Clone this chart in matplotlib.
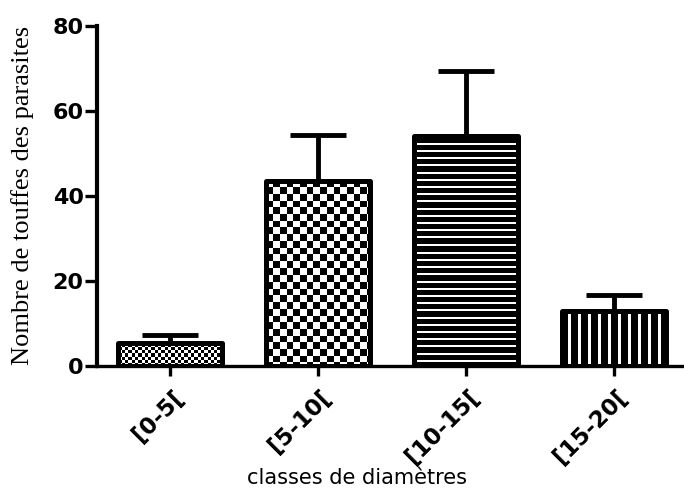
import matplotlib
matplotlib.use("Agg")
import matplotlib.pyplot as plt
import numpy as np
from matplotlib.transforms import ScaledTranslation

# values
categories = ["[0-5[", "[5-10[", "[10-15[", "[15-20["]
means = [5.3, 43.5, 54.1, 13.0]
sem = [2.0, 10.8, 15.3, 3.7]
y_ticks = [0, 20, 40, 60, 80]
x_label = "classes de diamètres"
y_label = "Nombre de touffes des parasites"

# fill pattern for each bar (drawn in pixel units)
fills = ["fine_check", "check", "hlines", "vlines"]
BAR_W = 0.7
DPI = 100


def pattern(kind, w, h):
    """Return an h x w array, 1 = black, 0 = white."""
    yy, xx = np.mgrid[0:h, 0:w]
    if kind == "fine_check":
        c = 3.3
        return ((xx // c + yy // c) % 2).astype(float)
    if kind == "check":
        c = 6.7
        return ((xx // c + yy // c) % 2).astype(float)
    if kind == "hlines":
        return 1.0 - ((yy % 7.2) < 2.0)
    if kind == "vlines":
        return 1.0 - (((xx + 4) % 10.0) < 2.2)
    return np.zeros((h, w))


fig = plt.figure(figsize=(6.84, 4.91), dpi=DPI)
ax = fig.add_axes([0.1418, 0.2546, 0.8582, 0.6934])

x = np.arange(len(categories))
xlim = (-0.493, 3.473)
ylim = (0, 80)
ax.set_xlim(*xlim)
ax.set_ylim(*ylim)

base = ax.bar(x, means, width=BAR_W, color="white", edgecolor="none", zorder=1)

# pattern images clipped to each bar
for rect, kind in zip(base.patches, fills):
    x0, x1 = rect.get_x(), rect.get_x() + rect.get_width()
    y0, y1 = 0, rect.get_height()
    (px0, py0), (px1, py1) = ax.transData.transform([(x0, y0), (x1, y1)])
    w = max(int(round(abs(px1 - px0))), 1)
    h = max(int(round(abs(py1 - py0))), 1)
    im = ax.imshow(pattern(kind, w, h), cmap="gray_r", vmin=0, vmax=1,
                   extent=(x0, x1, y0, y1), origin="upper",
                   interpolation="nearest", aspect="auto", zorder=2)
    im.set_clip_path(rect)

ax.errorbar(x, means, yerr=[np.zeros(len(sem)), sem], fmt="none",
            ecolor="black", elinewidth=3.5, capsize=20, capthick=3.5,
            zorder=2.5)

ax.bar(x, means, width=BAR_W, facecolor="none", edgecolor="black",
       linewidth=3.6, joinstyle="round", zorder=3)

ax.set_xlim(*xlim)
ax.set_ylim(*ylim)

for side in ("top", "right"):
    ax.spines[side].set_visible(False)
ax.spines["left"].set_linewidth(3.0)
ax.spines["bottom"].set_linewidth(2.4)

ax.set_yticks(y_ticks)
ax.set_xticks(x)
ax.tick_params(axis="y", length=8.6, width=2.4, pad=1.0)
ax.tick_params(axis="x", length=7.2, width=2.4, pad=7.0)

ax.set_yticklabels([str(v) for v in y_ticks], fontsize=16, fontweight="bold",
                   family="DejaVu Sans")
ax.set_xticklabels(categories, fontsize=16.5, fontweight="bold",
                   family="DejaVu Sans")
shift = ScaledTranslation(2 / DPI, 0, fig.dpi_scale_trans)
for lab in ax.get_xticklabels():
    lab.set_rotation(45)
    lab.set_ha("right")
    lab.set_va("top")
    lab.set_rotation_mode("anchor")
    lab.set_transform(lab.get_transform() + shift)

ax.set_xlabel(x_label, fontsize=15, family="DejaVu Sans", va="center")
ax.xaxis.set_label_coords(0.443, -0.328)
ax.set_ylabel(y_label, fontsize=19, family="Liberation Serif", va="center")
ax.yaxis.set_label_coords(-0.127, 0.5)

fig.savefig("out.png", dpi=DPI)
